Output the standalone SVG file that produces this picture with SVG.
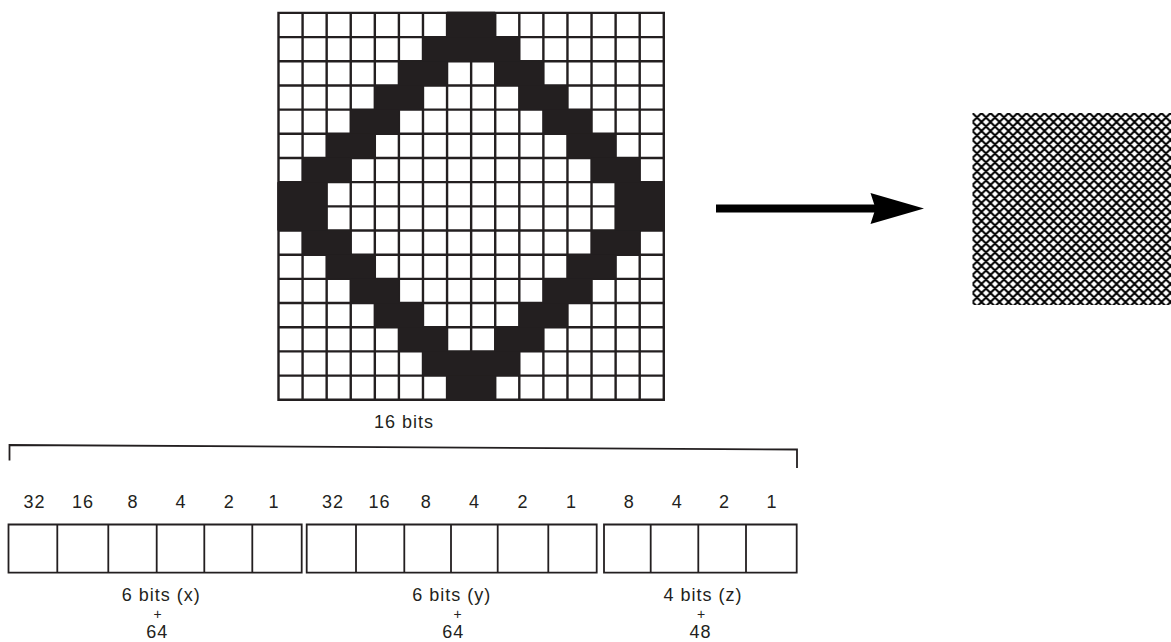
<svg xmlns="http://www.w3.org/2000/svg" width="1171" height="642" viewBox="0 0 1171 642">
<style>
text{font-family:"Liberation Sans",Arial,sans-serif;font-size:18px;fill:#231f20;letter-spacing:1px;text-anchor:middle}
text.plus{font-size:14px;letter-spacing:0}
.grid{fill:none;stroke:#231f20;stroke-width:2.4}
.band{fill:#231f20}
.box{fill:#fff;stroke:#231f20;stroke-width:1.8}
.line{fill:none;stroke:#231f20;stroke-width:1.8}
</style>
<defs>
<pattern id="mesh" x="972.5" y="113" width="9" height="9" patternUnits="userSpaceOnUse">
<path d="M-4.5,-4.5L13.5,13.5M-4.5,13.5L13.5,-4.5M4.5,-4.5L13.5,4.5M-4.5,4.5L4.5,13.5M4.5,-4.5L-4.5,4.5M13.5,4.5L4.5,13.5" stroke="#000" stroke-width="2" fill="none"/>
</pattern>
</defs>
<rect width="1171" height="642" fill="#fff"/>
<g id="bitmap">
<rect x="278.5" y="12.9" width="385.28" height="386.88" fill="#fff"/>
<path class="grid" d="M278.5,11.7V401M302.58,11.7V401M326.66,11.7V401M350.74,11.7V401M374.82,11.7V401M398.9,11.7V401M422.98,11.7V401M447.06,11.7V401M471.14,11.7V401M495.22,11.7V401M519.3,11.7V401M543.38,11.7V401M567.46,11.7V401M591.54,11.7V401M615.62,11.7V401M639.7,11.7V401M663.78,11.7V401M277.3,12.9H665M277.3,37.08H665M277.3,61.26H665M277.3,85.44H665M277.3,109.62H665M277.3,133.8H665M277.3,157.98H665M277.3,182.16H665M277.3,206.34H665M277.3,230.52H665M277.3,254.7H665M277.3,278.88H665M277.3,303.06H665M277.3,327.24H665M277.3,351.42H665M277.3,375.6H665M277.3,399.78H665"/>
<g class="band">
<rect x="447.06" y="11.7" width="48.16" height="25.38"/>
<rect x="422.98" y="37.08" width="96.32" height="24.18"/>
<rect x="398.9" y="61.26" width="48.16" height="24.18"/>
<rect x="495.22" y="61.26" width="48.16" height="24.18"/>
<rect x="374.82" y="85.44" width="48.16" height="24.18"/>
<rect x="519.3" y="85.44" width="48.16" height="24.18"/>
<rect x="350.74" y="109.62" width="48.16" height="24.18"/>
<rect x="543.38" y="109.62" width="48.16" height="24.18"/>
<rect x="326.66" y="133.8" width="48.16" height="24.18"/>
<rect x="567.46" y="133.8" width="48.16" height="24.18"/>
<rect x="302.58" y="157.98" width="48.16" height="24.18"/>
<rect x="591.54" y="157.98" width="48.16" height="24.18"/>
<rect x="277.3" y="182.16" width="49.36" height="48.36"/>
<rect x="615.62" y="182.16" width="49.38" height="48.36"/>
<rect x="302.58" y="230.52" width="48.16" height="24.18"/>
<rect x="591.54" y="230.52" width="48.16" height="24.18"/>
<rect x="326.66" y="254.7" width="48.16" height="24.18"/>
<rect x="567.46" y="254.7" width="48.16" height="24.18"/>
<rect x="350.74" y="278.88" width="48.16" height="24.18"/>
<rect x="543.38" y="278.88" width="48.16" height="24.18"/>
<rect x="374.82" y="303.06" width="48.16" height="24.18"/>
<rect x="519.3" y="303.06" width="48.16" height="24.18"/>
<rect x="398.9" y="327.24" width="48.16" height="24.18"/>
<rect x="495.22" y="327.24" width="48.16" height="24.18"/>
<rect x="422.98" y="351.42" width="96.32" height="24.18"/>
<rect x="447.06" y="375.6" width="48.16" height="25.4"/>
</g>
<text x="404" y="428.3">16 bits</text>
</g>
<g id="connectors">
<rect x="716" y="204.5" width="160" height="8" fill="#000"/>
<polygon points="924,208.5 870.5,193 875.5,208.5 870.5,224" fill="#000"/>
</g>
<g id="mesh-block">
<rect x="972.5" y="113" width="198.5" height="192" fill="url(#mesh)"/>
</g>
<g id="bracket">
<path class="line" d="M9.5,460.5V445L797,449.5V468"/>
</g>
<g id="field-x">
<text x="34.5" y="508.3">32</text>
<text x="83" y="508.3">16</text>
<text x="133" y="508.3">8</text>
<text x="181" y="508.3">4</text>
<text x="229.2" y="508.3">2</text>
<text x="274" y="508.3">1</text>
<path class="box" d="M8.5,524.5H301.7V572.7H8.5Z"/>
<path class="line" d="M57.3,524.5V572.7M108.3,524.5V572.7M156.7,524.5V572.7M204.3,524.5V572.7M252.3,524.5V572.7"/>
<text x="161.3" y="601">6 bits (x)</text>
<text class="plus" x="157.7" y="618.8">+</text>
<text x="157.2" y="638.4">64</text>
</g>
<g id="field-y">
<text x="333" y="508.3">32</text>
<text x="379.5" y="508.3">16</text>
<text x="426.3" y="508.3">8</text>
<text x="474.5" y="508.3">4</text>
<text x="523" y="508.3">2</text>
<text x="571.4" y="508.3">1</text>
<path class="box" d="M306.7,524.5H596.7V572.7H306.7Z"/>
<path class="line" d="M356,524.5V572.7M404.3,524.5V572.7M451,524.5V572.7M497.7,524.5V572.7M548.3,524.5V572.7"/>
<text x="451.8" y="601">6 bits (y)</text>
<text class="plus" x="457.5" y="618.8">+</text>
<text x="453.3" y="638.4">64</text>
</g>
<g id="field-z">
<text x="629.3" y="508.3">8</text>
<text x="677.2" y="508.3">4</text>
<text x="724.5" y="508.3">2</text>
<text x="772" y="508.3">1</text>
<path class="box" d="M604,524.5H796.7V572.7H604Z"/>
<path class="line" d="M650.7,524.5V572.7M698.3,524.5V572.7M746,524.5V572.7"/>
<text x="703" y="601">4 bits (z)</text>
<text class="plus" x="701.2" y="618.8">+</text>
<text x="700.5" y="638.4">48</text>
</g>
</svg>
